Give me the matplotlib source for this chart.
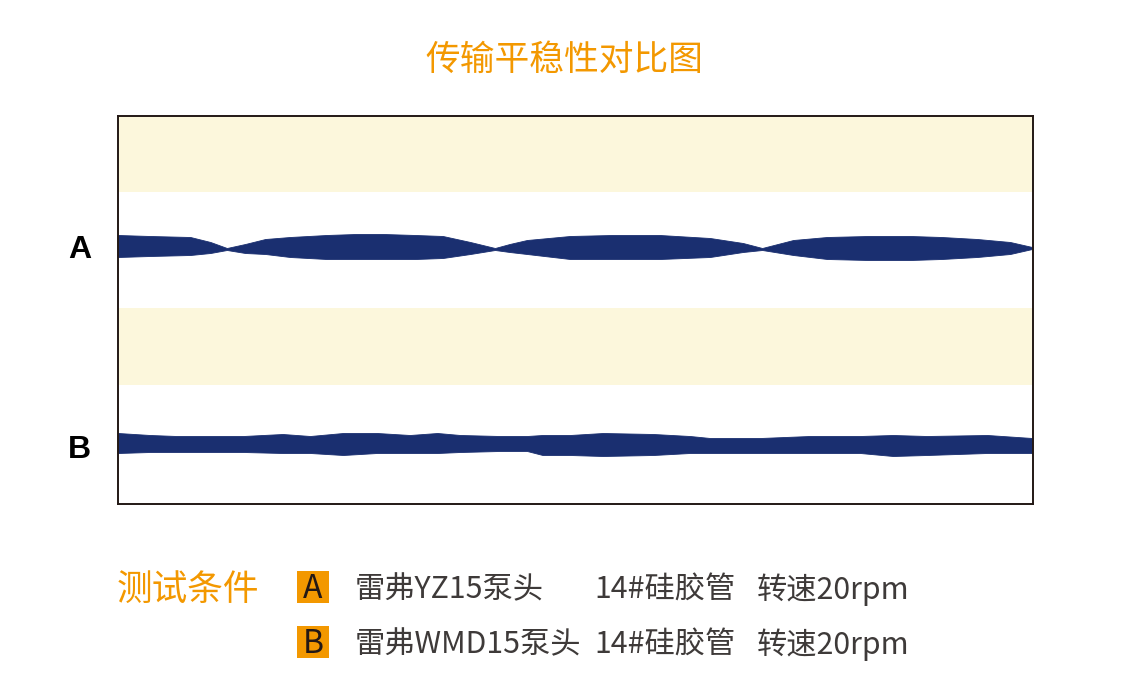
import matplotlib
matplotlib.use("Agg")
import matplotlib.pyplot as plt
from matplotlib.patches import Rectangle

plt.rcParams['font.family'] = ['Noto Sans CJK SC', 'DejaVu Sans']

# ---- data (time 0..100, signal in arbitrary units, axis range 0..388) ----
time_a = [0, 3.5, 7.9, 10.1, 11.9, 13.9, 16.1, 18.8, 22.8, 26.0, 29.0, 32.5, 35.5, 38.5,
          41.2, 42.8, 44.7, 49.4, 54.0, 59.2, 64.7, 68.3, 70.4, 73.8, 77.5, 82.0,
          86.6, 90.0, 93.9, 97.5, 99.9]
upper_a = [269, 268, 267, 262, 256, 260, 265, 267, 269, 270, 270, 269, 268, 262,
           256, 260, 264, 268, 269, 269, 266, 261, 256, 264, 267, 268,
           268, 267, 265, 262, 257]
lower_a = [247, 248, 249, 251, 254, 251, 250, 247, 245, 245, 245, 245, 246, 250,
           254, 252, 250, 245, 245, 245, 247, 252, 254, 249, 245, 244,
           244, 245, 247, 250, 255]

time_b = [0, 3.5, 6.4, 13.7, 18.0, 21.0, 24.6, 28.3, 31.9, 34.9, 37.4, 41.7, 44.7,
          46.4, 49.4, 53.0, 58.5, 62.5, 64.7, 70.2, 75.6, 81.1, 84.7, 88.4, 95.0, 99.9]
upper_b = [71, 69, 68, 68, 70, 68, 71, 71, 69, 71, 69, 68, 68,
           69, 69, 71, 70, 68, 66, 66, 68, 68, 69, 68, 69, 66]
lower_b = [51, 52, 52, 52, 51, 51, 49, 51, 51, 51, 52, 53, 53,
           49, 49, 48, 49, 51, 51, 51, 51, 51, 48, 49, 51, 51]

bands = [(119, 196), (312, 388)]
row_labels = ["A", "B"]
row_label_y = [257, 57]

title = "传输平稳性对比图"
cond_title = "测试条件"
cond_keys = ["A", "B"]
cond_pump = ["雷弗YZ15泵头", "雷弗WMD15泵头"]
cond_tube = ["14#硅胶管", "14#硅胶管"]
cond_speed = ["转速20rpm", "转速20rpm"]

ORANGE = "#f39800"
NAVY = "#1a2f70"
BAND = "#fcf7dc"
GRAY = "#3e3a39"

W, H = 1129, 674
fig = plt.figure(figsize=(W / 100, H / 100), dpi=100)
fig.patch.set_facecolor("white")

def fx(px):
    return px / W

def fy(py):
    return 1 - py / H

ax = fig.add_axes([fx(118), fy(504), fx(1033) - fx(118), fy(116) - fy(504)])
ax.set_xlim(0, 100)
ax.set_ylim(0, 388)
for lo, hi in bands:
    ax.axhspan(lo, hi, color=BAND, lw=0, zorder=0)
ax.fill_between(time_a, lower_a, upper_a, color=NAVY, lw=0.6, edgecolor=NAVY, zorder=2)
ax.fill_between(time_b, lower_b, upper_b, color=NAVY, lw=0.6, edgecolor=NAVY, zorder=2)
ax.set_xticks([])
ax.set_yticks([])
for s in ax.spines.values():
    s.set_linewidth(1.4)
    s.set_color("#231815")

for lab, yv in zip(row_labels, row_label_y):
    ax.text(-4.2, yv - 3.5, lab, transform=ax.transData, ha="center", va="center",
            fontsize=23, fontweight="bold", family=["Liberation Sans", "DejaVu Sans"],
            color="black", clip_on=False)

fig.text(fx(564), fy(60), title, ha="center", va="center", fontsize=25, color=ORANGE)

fig.text(fx(117), fy(590), cond_title, ha="left", va="center", fontsize=25.7, color=ORANGE)

row_y = [587, 642]
for i in range(2):
    yc = row_y[i]
    fig.patches.append(Rectangle((fx(297), fy(yc + 16)), fx(32), 32 / H,
                                 transform=fig.transFigure, facecolor=ORANGE,
                                 edgecolor="none"))
    fig.text(fx(313), fy(yc + 2), cond_keys[i], ha="center", va="center",
             fontsize=23, color="#231815")
    fig.text(fx(355), fy(yc + 3), cond_pump[i], ha="left", va="center", fontsize=21.8, color=GRAY)
    fig.text(fx(594), fy(yc + 3), cond_tube[i], ha="left", va="center", fontsize=21.8, color=GRAY)
    fig.text(fx(757), fy(yc + 3), cond_speed[i], ha="left", va="center", fontsize=21.8, color=GRAY)

fig.savefig("out.png", dpi=100, facecolor="white")
